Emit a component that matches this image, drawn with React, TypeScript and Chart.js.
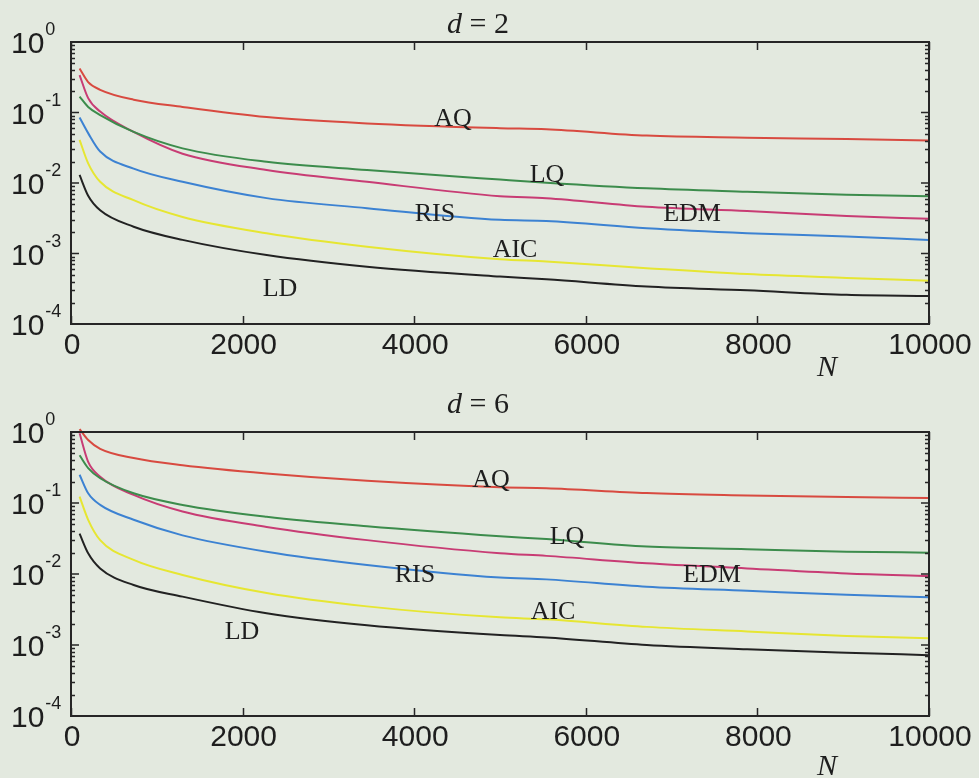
import React, { useEffect, useRef } from "react";
import { Chart, registerables } from "chart.js";

Chart.register(...registerables);

const N = [100, 200, 340, 730, 1300, 2280, 3450, 5000, 5540, 6710, 7880, 9040, 10000];

// d = 2
const AQ2 = [0.42, 0.27, 0.21, 0.152, 0.12, 0.086, 0.07, 0.06, 0.058, 0.047, 0.044, 0.042, 0.04];
const LQ2 = [0.168, 0.12, 0.092, 0.053, 0.031, 0.02, 0.0153, 0.0112, 0.0101, 0.0084, 0.0075, 0.0068, 0.0065];
const EDM2 = [0.34, 0.16, 0.103, 0.053, 0.026, 0.0153, 0.0104, 0.0065, 0.0061, 0.0046, 0.004, 0.0034, 0.0031];
const RIS2 = [0.085, 0.051, 0.028, 0.016, 0.0104, 0.0061, 0.0044, 0.003, 0.0029, 0.00228, 0.00194, 0.00174, 0.00156];
const AIC2 = [0.041, 0.019, 0.0104, 0.0057, 0.0033, 0.00194, 0.00125, 0.00083, 0.00077, 0.00062, 0.00051, 0.00045, 0.00041];
const LD2 = [0.013, 0.0066, 0.0041, 0.0024, 0.00156, 0.00095, 0.00065, 0.00047, 0.00043, 0.00034, 0.0003, 0.00026, 0.00025];

// d = 6
const AQ6 = [1.1, 0.77, 0.58, 0.43, 0.34, 0.26, 0.205, 0.166, 0.161, 0.138, 0.128, 0.121, 0.118];
const LQ6 = [0.47, 0.31, 0.223, 0.137, 0.094, 0.064, 0.047, 0.034, 0.031, 0.0243, 0.0223, 0.0206, 0.02];
const EDM6 = [0.96, 0.38, 0.235, 0.13, 0.076, 0.046, 0.03, 0.0196, 0.018, 0.0142, 0.012, 0.0102, 0.0094];
const RIS6 = [0.25, 0.137, 0.094, 0.058, 0.035, 0.0206, 0.0134, 0.0089, 0.0084, 0.0066, 0.0058, 0.0051, 0.0047];
const AIC6 = [0.123, 0.058, 0.03, 0.0158, 0.0097, 0.0054, 0.0035, 0.00245, 0.0023, 0.0018, 0.00155, 0.00134, 0.00124];
const LD6 = [0.037, 0.0196, 0.012, 0.007, 0.0048, 0.0028, 0.0019, 0.00138, 0.00128, 0.001, 0.00087, 0.00078, 0.00072];

const SERIES_NAMES = ["AQ", "LQ", "EDM", "RIS", "AIC", "LD"];
const SERIES_COLORS = ["#d84a40", "#3c8c4c", "#c83c74", "#3c82d2", "#e6e632", "#222222"];

// curve label anchors in data coordinates [N, value]
const LABELS2: [string, number, number][] = [
  ["AQ", 4452, 0.086], ["LQ", 5548, 0.0139], ["RIS", 4242, 0.0039],
  ["EDM", 7238, 0.0039], ["AIC", 5175, 0.0012], ["LD", 2436, 0.000335],
];
const LABELS6: [string, number, number][] = [
  ["AQ", 4895, 0.225], ["LQ", 5781, 0.0354], ["RIS", 4009, 0.0103],
  ["EDM", 7471, 0.0103], ["AIC", 5618, 0.00311], ["LD", 1993, 0.00163],
];

const X_TICKS = [0, 2000, 4000, 6000, 8000, 10000];
const Y_EXPONENTS = [0, -1, -2, -3, -4];

const BG = "#e3e9df";
const AXIS = "#262626";
const SANS = "'Liberation Sans', Arial, sans-serif";
const SERIF = "'Liberation Serif', 'Times New Roman', serif";

function makePlugin(dval: string, labels: [string, number, number][], titleBase: number, nBase: number) {
  return {
    id: "decor",
    afterDraw(chart: any) {
      const ctx = chart.ctx as CanvasRenderingContext2D;
      const a = chart.chartArea;
      const xs = chart.scales.x;
      const ys = chart.scales.y;
      ctx.save();
      // curve labels
      ctx.fillStyle = "#1e1e1e";
      ctx.font = `26px ${SERIF}`;
      ctx.textAlign = "center";
      ctx.textBaseline = "alphabetic";
      for (const [t, nx, v] of labels) {
        ctx.fillText(t, xs.getPixelForValue(nx), ys.getPixelForValue(v) + 9);
      }
      // box
      ctx.strokeStyle = AXIS;
      ctx.lineWidth = 2;
      ctx.strokeRect(a.left, a.top, a.right - a.left, a.bottom - a.top);
      ctx.lineWidth = 1.5;
      ctx.beginPath();
      for (const t of X_TICKS) {
        const px = Math.round(xs.getPixelForValue(t)) + 0.5;
        ctx.moveTo(px, a.bottom);
        ctx.lineTo(px, a.bottom - 8);
        ctx.moveTo(px, a.top);
        ctx.lineTo(px, a.top + 8);
      }
      for (let e = -4; e <= 0; e++) {
        const py = ys.getPixelForValue(Math.pow(10, e));
        ctx.moveTo(a.left, py);
        ctx.lineTo(a.left + 8, py);
        ctx.moveTo(a.right, py);
        ctx.lineTo(a.right - 8, py);
        if (e < 0) {
          for (let m = 2; m <= 9; m++) {
            const pm = Math.round(ys.getPixelForValue(m * Math.pow(10, e))) + 0.5;
            ctx.moveTo(a.left, pm);
            ctx.lineTo(a.left + 4, pm);
            ctx.moveTo(a.right, pm);
            ctx.lineTo(a.right - 4, pm);
          }
        }
      }
      ctx.stroke();
      // y labels
      ctx.fillStyle = "#1e1e1e";
      ctx.textAlign = "left";
      for (const e of Y_EXPONENTS) {
        const py = ys.getPixelForValue(Math.pow(10, e));
        ctx.font = `30px ${SANS}`;
        ctx.fillText("10", 11, py + 11);
        const w = ctx.measureText("10").width;
        ctx.font = `18px ${SANS}`;
        ctx.fillText(String(e), 11 + w + 1, py - 7);
      }
      // x labels
      ctx.textAlign = "center";
      ctx.font = `30px ${SANS}`;
      for (const t of X_TICKS) {
        ctx.fillText(String(t), xs.getPixelForValue(t) + 1, a.bottom + 30);
      }
      // N label
      ctx.font = `italic 30px ${SERIF}`;
      ctx.fillText("N", 827, nBase);
      // title
      ctx.textAlign = "left";
      ctx.font = `italic 30px ${SERIF}`;
      const tx = 447;
      ctx.fillText("d", tx, titleBase);
      const dw = ctx.measureText("d").width;
      ctx.font = `30px ${SERIF}`;
      ctx.fillText(" = " + dval, tx + dw, titleBase);
      ctx.restore();
    },
  };
}

function buildDatasets(series: number[][]) {
  return series.map((vals, i) => ({
    label: SERIES_NAMES[i],
    data: N.map((n, j) => ({ x: n, y: vals[j] })),
    borderColor: SERIES_COLORS[i],
    borderWidth: 2,
    pointRadius: 0,
    fill: false,
    cubicInterpolationMode: "monotone" as const,
    clip: false as const,
  }));
}

function Panel({ series, dval, labels, padding, titleBase, nBase }: any) {
  const ref = useRef<HTMLCanvasElement>(null);
  useEffect(() => {
    if (!ref.current) return;
    const chart = new Chart(ref.current, {
      type: "line",
      data: { datasets: buildDatasets(series) as any },
      options: {
        animation: false,
        responsive: false,
        devicePixelRatio: 1,
        layout: { padding },
        plugins: { legend: { display: false }, tooltip: { enabled: false }, title: { display: false } },
        scales: {
          x: {
            type: "linear",
            min: 0,
            max: 10000,
            ticks: { display: false },
            grid: { display: false },
            border: { display: false },
            afterFit: (s: any) => { s.height = 0; },
          },
          y: {
            type: "logarithmic",
            min: 1e-4,
            max: 1,
            ticks: { display: false },
            grid: { display: false },
            border: { display: false },
            afterFit: (s: any) => { s.width = 0; },
          },
        },
      },
      plugins: [makePlugin(dval, labels, titleBase, nBase)],
    });
    return () => chart.destroy();
  }, []);
  return <canvas ref={ref} width={979} height={389} style={{ display: "block", width: 979, height: 389 }} />;
}

export default function App() {
  return (
    <div style={{ position: "fixed", left: 0, top: 0, width: 979, height: 778, background: BG }}>
      <Panel
        series={[AQ2, LQ2, EDM2, RIS2, AIC2, LD2]}
        dval="2"
        labels={LABELS2}
        padding={{ left: 71, right: 50, top: 42, bottom: 65 }}
        titleBase={33}
        nBase={376}
      />
      <Panel
        series={[AQ6, LQ6, EDM6, RIS6, AIC6, LD6]}
        dval="6"
        labels={LABELS6}
        padding={{ left: 71, right: 50, top: 43, bottom: 62 }}
        titleBase={24}
        nBase={386}
      />
    </div>
  );
}
